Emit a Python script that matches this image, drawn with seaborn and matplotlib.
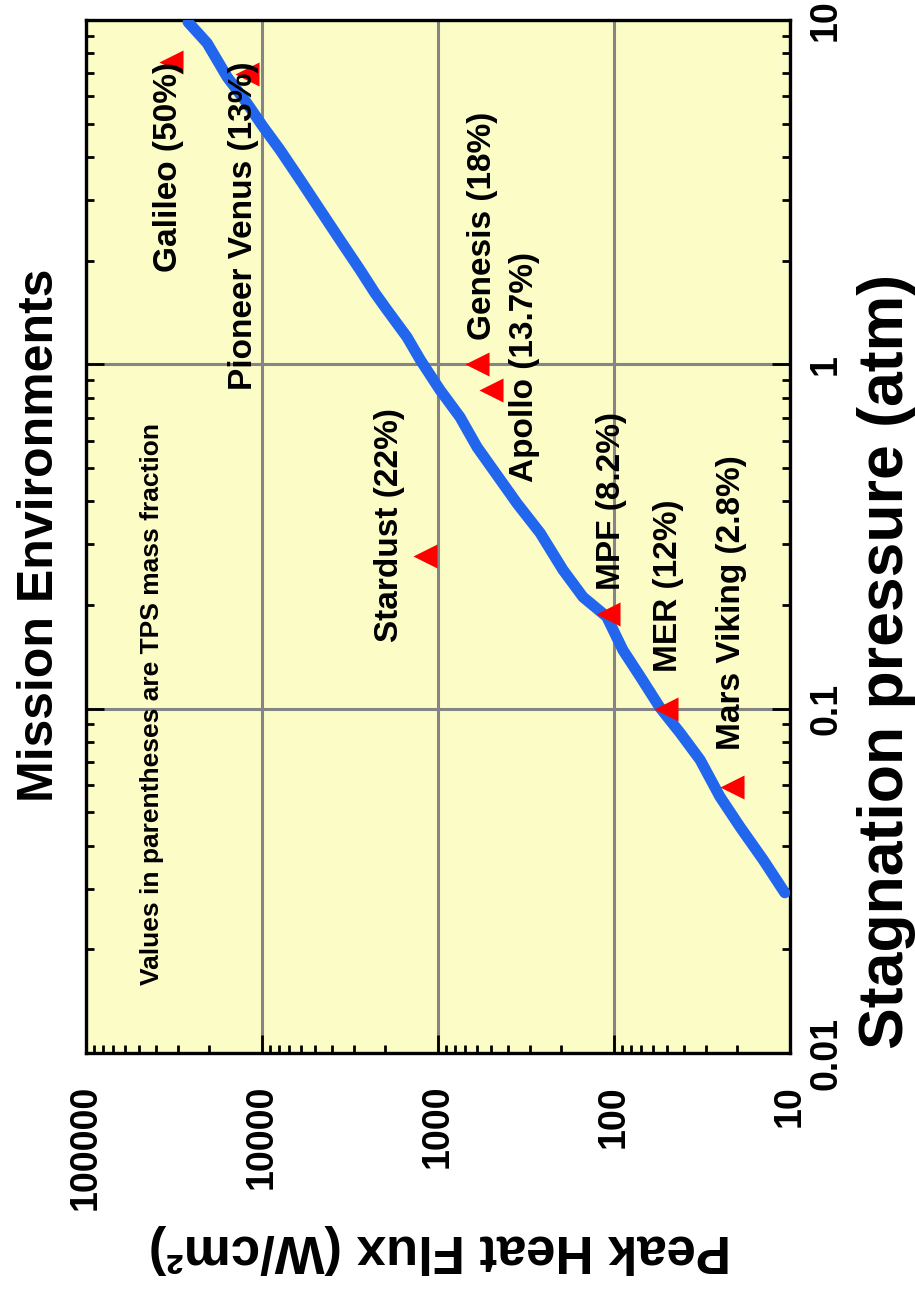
import matplotlib
matplotlib.use("Agg")
import matplotlib.pyplot as plt
import pandas as pd
import seaborn as sns
from matplotlib.ticker import FixedLocator, FixedFormatter, LogLocator, NullFormatter

# Trend line: peak heat flux (W/cm^2) against stagnation pressure (atm)
curve_flux = [26300, 20500, 15800, 12200, 9860, 7910, 6080, 4680, 3610, 2770,
              2280, 1950, 1500, 1260, 975, 750, 600, 356, 263, 195, 150, 110,
              89, 71, 55, 42, 32.4, 25.0, 19.2, 14.2, 10.7]
curve_pressure = [9.86, 8.57, 6.84, 5.74, 4.90, 4.20, 3.44, 2.81, 2.30, 1.88,
                  1.61, 1.44, 1.20, 1.03, 0.843, 0.703, 0.575, 0.395, 0.324,
                  0.253, 0.211, 0.185, 0.148, 0.124, 0.101, 0.0849, 0.0710,
                  0.0555, 0.0453, 0.0364, 0.0292]

# Missions (TPS mass fraction in parentheses)
missions = ["Galileo (50%)", "Pioneer Venus (13%)", "Genesis (18%)",
            "Apollo (13.7%)", "Stardust (22%)", "MPF (8.2%)", "MER (12%)",
            "Mars Viking (2.8%)"]
mission_flux = [33100, 12200, 604, 503, 1190, 108, 50.7, 21.4]
mission_pressure = [7.53, 6.95, 1.0, 0.84, 0.277, 0.188, 0.10, 0.0594]

flux_ticks = [100000, 10000, 1000, 100, 10]
flux_tick_labels = ["100000", "10000", "1000", "100", "10"]
pressure_ticks = [0.01, 0.1, 1, 10]
pressure_tick_labels = ["0.01", "0.1", "1", "10"]

note_text = "Values in parentheses are TPS mass fraction"

# Placement of the upright mission labels (flux, pressure of the label's lower end)
label_anchor = [(34200, 1.85), (12800, 0.843), (562, 1.18), (321, 0.455),
                (1875, 0.156), (103, 0.221), (49.3, 0.128), (21.6, 0.0759)]
note_anchor = (42200, 0.0158)

sns.set_theme(style="white")
plt.rcParams["font.family"] = ["Liberation Sans", "DejaVu Sans"]
plt.rcParams["font.weight"] = "bold"
for key in ["text.color", "axes.labelcolor", "xtick.color", "ytick.color",
            "xtick.labelcolor", "ytick.labelcolor"]:
    plt.rcParams[key] = "black"

fig = plt.figure(figsize=(9.15, 12.93), dpi=100)
ax = fig.add_axes([0.094, 0.1856, 0.7694, 0.7989])
ax.set_facecolor("#FCFCC6")

ax.set_xscale("log")
ax.set_yscale("log")
ax.set_xlim(100000, 10)
ax.set_ylim(0.01, 10)

curve = pd.DataFrame({"flux": curve_flux, "pressure": curve_pressure})
pts = pd.DataFrame({"flux": mission_flux, "pressure": mission_pressure,
                    "mission": missions})

sns.lineplot(data=curve, x="flux", y="pressure", sort=False, estimator=None,
             color="#2266EE", linewidth=8, ax=ax, zorder=3,
             solid_capstyle="round", solid_joinstyle="round")
sns.scatterplot(data=pts, x="flux", y="pressure", marker="<", s=300,
                color="#FF0000", linewidth=0, ax=ax, zorder=4, legend=False)

for name, (fx, py) in zip(missions, label_anchor):
    ax.text(fx, py, name, rotation=90, ha="center", va="bottom",
            fontsize=24, fontweight="bold", color="black", zorder=5)
ax.text(note_anchor[0], note_anchor[1], note_text, rotation=90, ha="center",
        va="bottom", fontsize=19, fontweight="bold", color="black", zorder=5)

# Grid at decades
ax.grid(True, which="major", color="#858585", linewidth=2.2)
ax.set_axisbelow(True)
for s in ax.spines.values():
    s.set_color("black")
    s.set_linewidth(2.4)

# Heat flux axis (horizontal): ticks on the lower edge only
ax.xaxis.set_major_locator(FixedLocator(flux_ticks))
ax.xaxis.set_major_formatter(FixedFormatter(flux_tick_labels))
ax.xaxis.set_minor_locator(LogLocator(base=10, subs=range(2, 10), numticks=20))
ax.xaxis.set_minor_formatter(NullFormatter())
ax.tick_params(axis="x", which="both", bottom=True, top=False, direction="in",
               labelrotation=90, labelsize=27, pad=23, color="black",
               labelcolor="black")
ax.tick_params(axis="x", which="major", length=13, width=2)
ax.tick_params(axis="x", which="minor", length=6, width=2)

# Pressure axis (vertical): ticks on both edges, labels on the right
ax.yaxis.set_major_locator(FixedLocator(pressure_ticks))
ax.yaxis.set_major_formatter(FixedFormatter(pressure_tick_labels))
ax.yaxis.set_minor_locator(LogLocator(base=10, subs=range(2, 10), numticks=20))
ax.yaxis.set_minor_formatter(NullFormatter())
ax.tick_params(axis="y", which="both", left=True, right=True, labelleft=False,
               labelright=True, direction="in", labelrotation=90, labelsize=27,
               pad=13, color="black", labelcolor="black")
ax.tick_params(axis="y", which="major", length=13, width=2)
ax.tick_params(axis="y", which="minor", length=6, width=2)
for lbl in ax.get_yticklabels():
    lbl.set_fontweight("bold")
    lbl.set_verticalalignment("center")
for lbl in ax.get_xticklabels():
    lbl.set_fontweight("bold")

ax.set_ylabel("")
ax.set_xlabel("Peak Heat Flux (W/cm²)", fontsize=38, fontweight="bold",
              rotation=180, color="black")
ax.xaxis.set_label_coords(0.503, -0.166)

fig.text(886 / 915, 1 - 661 / 1293, "Stagnation pressure (atm)", rotation=90,
         ha="center", va="center", fontsize=45, fontweight="bold",
         color="black")
fig.text(40 / 915, 1 - 535 / 1293, "Mission Environments", rotation=90,
         ha="center", va="center", fontsize=36, fontweight="bold",
         color="black")

fig.savefig("out.png", dpi=100, facecolor="white")
